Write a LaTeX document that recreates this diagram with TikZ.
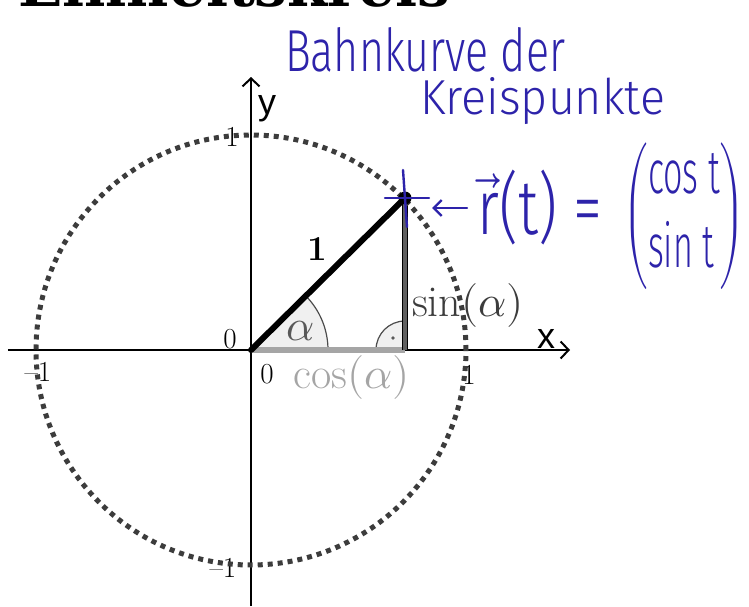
\documentclass[tikz,border=0pt]{standalone}
\usepackage{fontspec}
\usepackage{unicode-math}
\setmathfont{Latin Modern Math}
\usepackage{graphicx}
\usetikzlibrary{arrows.meta}
\newfontfamily\titlefont{DejaVu Serif}
\newfontfamily\axisfont{Liberation Sans}
\newfontfamily\handfont{Fira Sans Light}
\definecolor{hand}{RGB}{45,35,170}
\definecolor{singray}{RGB}{60,60,60}
\definecolor{cosgray}{RGB}{165,165,165}
\definecolor{dotgray}{RGB}{60,60,60}
\begin{document}
\begin{tikzpicture}[x=1pt,y=1pt,
  axisline/.style={line width=2.4pt, -{Straight Barb[length=8pt,width=17pt,line width=2pt]}},
  circ/.style={line width=5pt, dash pattern=on 5pt off 5pt, draw=dotgray},
  tick/.style={font=\fontsize{29}{29}\selectfont, inner sep=0pt},
  axislabel/.style={font=\axisfont\fontsize{36}{36}\selectfont, inner sep=0pt, anchor=base west},
  trig/.style={font=\fontsize{44}{44}\selectfont, inner sep=0pt},
  hand/.style={text=hand, font=\handfont, inner sep=0pt},
  handline/.style={draw=hand, line width=2.4pt, line cap=round}]
\useasboundingbox (-251,-256) rectangle (498,350);
\fill[white] (-251,-256) rectangle (498,350);

% title (cut by the top edge)
\node[anchor=base west, inner sep=0pt] (title) at (-233,343)
  {\resizebox{432pt}{!}{\titlefont\bfseries Einheitskreis}};

\coordinate (O) at (0,0);
\coordinate (P) at (154,152);
\coordinate (F) at (154,0);
\coordinate (xs) at (-243,0);
\coordinate (xe) at (319,0);
\coordinate (ys) at (0,-256);
\coordinate (ye) at (0,273);

% angle sector and right angle
\fill[gray!12] (O) -- (77,0) arc[start angle=0,end angle=45,radius=77] -- cycle;
\draw[line width=1.2pt, gray!60!black] (77,0) arc[start angle=0,end angle=45,radius=77];
\fill[gray!12] (F) -- (125,0) arc[start angle=180,end angle=90,radius=29] -- cycle;
\draw[line width=1.2pt, gray!60!black] (125,0) arc[start angle=180,end angle=90,radius=29];
\fill[gray!70!black] (142,12) circle (1.8);

% axes
\draw[axisline] (xs) -- (xe);
\draw[axisline] (ys) -- (ye);

% triangle
\draw[line width=6pt, cosgray] (O) -- (F);
\draw[line width=6.5pt] (F) -- (P);
\draw[line width=4pt, gray!75!black] (F) -- (P);
\draw[line width=6pt, line cap=round] (O) -- (P);

% labels
\node[axislabel] (ylab) at (7,236) {y};
\node[axislabel] (xlab) at (286,2) {x};
\node[tick] (z1) at (-21,11) {0};
\node[tick] (z2) at (16,-24) {0};
\node[tick] (r1) at (218,-25) {1};
\node[tick] (l1) at (-213,-22) {\textendash1};
\node[tick] (t1) at (-19,213) {1};
\node[tick] (b1) at (-28,-218) {\textendash1};
\node[font=\fontsize{35}{35}\selectfont\bfseries, inner sep=0pt] (hyp) at (66,101) {1};
\node[trig, text=gray!70!black] (alpha) at (50,19) {$\alpha$};
\node[trig, text=singray, anchor=west] (sinlab) at (161,45) {$\sin(\alpha)$};
\node[trig, text=cosgray, anchor=west] (coslab) at (42,-27) {$\cos(\alpha)$};

% dotted unit circle
\draw[circ] (O) circle (215);

% handwriting
\node[hand, anchor=base west] (bahn) at (34,278) {\resizebox{280pt}{44pt}{Bahnkurve der}};
\node[hand, anchor=base west] (kreis) at (169,235) {\resizebox{245pt}{37pt}{Kreispunkte}};
\node[hand, anchor=west] (rt) at (226,142)
  {\resizebox*{125pt}{75pt}{$\overrightarrow{\hbox{\handfont r}}$\handfont(t) =}};
\node[hand] (vec) at (433,134)
  {\resizebox*{122pt}{147pt}{$\left(\begin{array}{@{}l@{}}\hbox{\handfont cos t}\\ \hbox{\handfont sin t}\end{array}\right)$}};
\coordinate (tipend) at (181,142);
\draw[handline, -{Straight Barb[length=8pt,width=16pt]}] ([xshift=-10pt]rt.west) -- (tipend);
\fill[hand] (P) circle (6.5);
\draw[handline] ([xshift=-20pt]P) -- ([xshift=24pt]P);
\draw[handline] ([yshift=28pt,xshift=-2pt]P) -- ([yshift=-29pt,xshift=2pt]P);
\end{tikzpicture}
\end{document}
